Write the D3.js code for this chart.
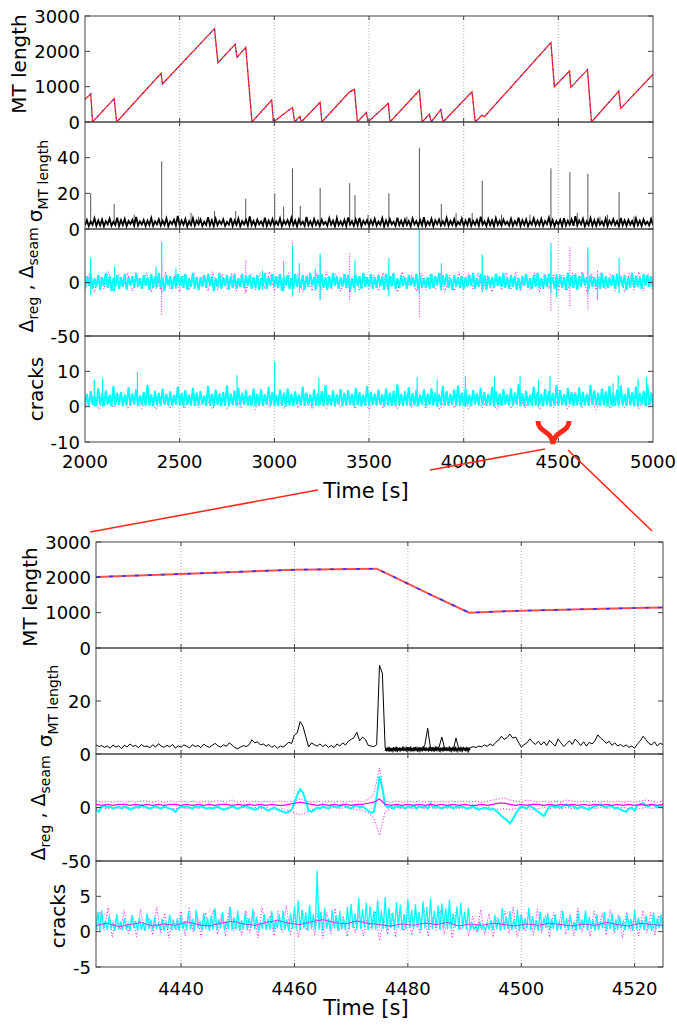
<!DOCTYPE html>
<html><head><meta charset="utf-8">
<script src="https://cdn.jsdelivr.net/npm/d3@7"></script>
<style>body{margin:0;background:#fff}</style>
</head><body>
<script>
// ---------------- DATA ----------------
// Overview (2000-5000 s)
const topXTicks = [2000,2500,3000,3500,4000,4500,5000];
const topMT_T = [2000,2030,2040,2154,2167,2402,2409,2684,2702,2793,2803,2849,2882,2986,2995,3096,3107,3135,3142,3242,3251,3395,3423,3439,3486,3495,3602,3611,3766,3781,3819,3828,3879,3891,4044,4061,4096,4110,4461,4479,4559,4566,4654,4675,4819,4830,5000];
const topMT_V = [642,792,0,660,0,1378,1075,2642,1679,2198,1830,2113,0,623,0,415,0,160,0,557,0,840,925,0,274,0,528,0,896,0,226,0,349,0,858,0,189,150,2245,1000,1443,981,1481,0,868,387,1350];

const topSigma = [
2,5,1.6,4.2,2.4,6,1.8,4.8,2.1,5.3, 1.5,4.4,2.6,5.8,1.9,4.1,2.3,6.3,1.7,4.9,
2.2,5.6,1.6,4.5,2.8,5.1,1.9,6.8,2.0,4.3, 2.5,5.0,1.7,4.7,2.2,6.1,1.8,4.4,2.6,5.4,
1.9,4.6,2.3,5.9,1.6,4.2,2.7,5.2,2.0,7.4, 1.8,4.8,2.4,5.5,1.5,4.3,2.2,6.0,1.9,4.7,
2.6,5.3,1.7,4.1,2.3,6.6,2.0,4.9,1.6,5.7, 2.1,4.5,2.8,5.4,1.8,4.0,2.4,6.2,1.7,4.8,
2.3,5.8,1.6,4.4,2.5,5.1,1.9,7.0,2.2,4.6, 1.7,5.2,2.6,4.3,2.0,6.4,1.8,4.7,2.3,5.5,
1.9,4.2,2.4,5.9,1.6,4.6,2.7,5.0,2.0,6.1, 2.2,4.8,1.5,5.4,2.5,4.1,1.8,6.7,2.1,4.4,
1.8,5.6,2.3,4.5,1.7,5.2,2.6,4.0,1.9,6.0, 2.4,4.7,1.6,5.8,2.2,4.3,2.0,5.1,1.7,6.5,
2.5,4.4,1.8,5.3,2.1,6.2,1.6,4.6,2.8,5.0, 1.7,4.9,2.3,5.7,1.9,4.2,2.4,6.0,1.5,4.8,
2.0,5.5,2.6,4.1,1.8,6.3,2.2,4.7,1.9,5.2, 2.3,4.5,1.6,5.9,2.5,4.4,1.7,5.0,2.1,6.6,
1.8,4.2,2.4,5.6,1.6,4.8,2.7,5.3,2.0,4.3, 2.2,6.1,1.9,4.6,2.3,5.4,1.7,4.0,2.5,5.8,
1.6,4.7,2.1,6.2,1.8,4.5,2.4,5.1,1.9,6.9, 2.5,4.3,1.7,5.5,2.2,4.8,1.6,6.0,2.3,4.6,
1.9,5.2,2.6,4.1,2.0,5.7,1.8,4.4,2.4,6.4, 1.7,4.9,2.3,5.3,1.6,4.2,2.5,5.9,2.1,4.7,
2.2,5.6,1.8,4.5,2.7,6.3,1.9,5.0,1.6,4.4, 2.4,5.1,1.7,6.1,2.0,4.6,2.3,5.4,1.8,7.2,
2.1,4.8,2.6,5.7,1.6,4.3,2.2,6.0,1.9,4.9, 1.8,5.3,2.4,4.2,2.0,5.8,1.7,4.6,2.5,5.5,
2.3,4.4,1.6,6.2,2.1,4.9,1.9,5.1,2.4,4.5, 1.7,5.9,2.2,4.7,1.8,5.3,2.6,4.1,2.0,5.6, 2.2];
const topSigmaSpikeT = [2030,2154,2260,2405,2560,2600,2684,2796,2849,3002,3049,3096,3137,3242,3330,3398,3426,3495,3605,3700,3766,3882,3960,4045,4098,4200,4350,4461,4561,4600,4656,4720,4760,4821,4900];
const topSigmaSpikeV = [20,14,8,38,9,7,10,10,17,20,12.6,34,13,23,8,25.7,19,8,20,7,45.6,14,9,9,27,8,8,34,32,9,31,7,8,20.7,7];

const topDeltaCyan = [
-5,6,-3,8,-6,4,-4,7,-7,5, -3,9,-5,6,-8,4,-4,7,-6,5, -4,8,-7,5,-3,6,-5,9,-4,4,
-6,7,-3,5,-7,8,-5,6,-4,9, -5,4,-8,7,-3,6,-6,5,-4,8, -3,6,-5,8,-7,4,-4,9,-6,5,
-7,5,-4,7,-5,8,-3,6,-8,4, -4,9,-6,5,-3,7,-7,6,-5,8, -6,4,-4,8,-5,6,-3,7,-6,5,
-5,7,-7,4,-4,9,-6,5,-3,8, -4,6,-5,8,-8,5,-3,7,-6,4, -6,8,-4,5,-5,7,-7,6,-4,9,
-3,5,-6,7,-4,8,-5,4,-7,6, -5,9,-3,6,-6,5,-4,8,-5,7, -7,4,-5,7,-3,6,-6,9,-4,5,
-4,8,-6,5,-5,7,-3,6,-7,8, -5,6,-4,9,-6,4,-5,7,-3,5, -6,7,-3,5,-4,8,-7,6,-5,4,
-4,5,-6,8,-5,6,-3,9,-6,7, -3,8,-5,4,-7,7,-4,5,-5,6, -6,5,-4,7,-3,9,-6,4,-4,8,
-5,7,-7,6,-4,5,-5,8,-3,6, -4,9,-5,5,-6,7,-4,6,-7,4, -6,6,-3,8,-5,4,-6,7,-4,9,
-5,4,-6,7,-4,8,-3,5,-6,6, -3,7,-5,5,-7,9,-4,6,-5,8, -7,6,-4,8,-3,5,-6,7,-4,5,
-4,5,-6,9,-5,6,-5,4,-3,7, -6,8,-3,6,-4,7,-7,5,-5,9, -5,6,-4,5,-6,8,-3,7,-4,6, -5];
const topDeltaMag = [
-7,9,-9,7,-6,10,-8,8,-5,9, -8,7,-6,9,-9,8,-7,10,-6,7, -9,8,-7,9,-6,7,-8,10,-7,8,
-6,9,-8,7,-9,8,-7,9,-6,10, -8,7,-7,9,-6,8,-9,7,-8,9, -7,10,-6,8,-8,7,-9,9,-7,8,
-6,7,-8,9,-7,8,-9,10,-6,7, -8,9,-7,8,-6,9,-9,7,-8,10, -7,8,-6,9,-8,7,-9,8,-7,9,
-6,10,-8,7,-7,9,-9,8,-6,8, -8,7,-7,9,-6,10,-9,8,-7,9, -6,8,-8,7,-9,9,-7,10,-8,8, -7];
const topDeltaCyanSpikeT  = [2030,2156,2375,2405,2480,2937,3049,3096,3132,3216,3242,3426,3605,3766,3882,4098,4461,4491,4656,4707,4821];
const topDeltaCyanSpikeHi = [23,15,15,38,13,11,20,35,18,13,27,21,23,49,18,26,37,8,33,8,23];
const topDeltaCyanSpikeLo = [-12,-8,-6,-10,-6,-7,-8,-13,-9,-8,-16,-9,-13,-10,-8,-9,-10,-14,-12,-16,-10];
const topDeltaMagSpikeT  = [2405,2849,3096,3242,3398,3766,4461,4561,4656,4707];
const topDeltaMagSpikeHi = [20,21,38,22,27,10,30,34,28,12];
const topDeltaMagSpikeLo = [-30,-10,-13,-16,-16,-32,-26,-22,-25,-16];

const topCracksCyan = [
0.3,3.6,0.1,4.4,0.5,3.1,0.2,5.2,0.4,3.8, 0.2,4.6,0.6,3.3,0.1,5.8,0.3,3.9,0.5,4.2,
0.1,3.4,0.4,5.5,0.2,3.7,0.6,4.9,0.3,3.2, 0.5,4.1,0.2,6.2,0.3,3.5,0.1,4.5,0.4,3.9,
0.2,5.1,0.5,3.6,0.3,4.3,0.2,3.3,0.6,5.7, 0.4,3.8,0.1,4.7,0.5,3.4,0.3,5.3,0.2,4.0,
0.3,4.4,0.6,3.1,0.2,5.9,0.4,3.6,0.1,4.8, 0.5,3.5,0.2,4.2,0.3,6.0,0.1,3.7,0.4,4.5,
0.2,5.4,0.4,3.9,0.6,4.6,0.3,3.2,0.2,5.1, 0.1,3.7,0.3,4.9,0.2,3.5,0.5,5.6,0.3,4.1,
0.4,3.3,0.2,4.8,0.5,3.9,0.1,5.2,0.3,3.6, 0.2,4.3,0.6,3.4,0.3,5.7,0.2,4.0,0.4,3.5,
0.1,4.9,0.3,3.8,0.5,4.4,0.2,6.1,0.4,3.3, 0.3,4.6,0.1,3.5,0.6,5.0,0.2,3.9,0.3,4.7,
0.5,3.6,0.2,5.3,0.4,4.1,0.1,3.4,0.3,5.8, 0.2,4.2,0.5,3.7,0.3,4.8,0.6,3.5,0.1,5.1,
0.4,3.9,0.2,4.5,0.3,6.3,0.5,3.6,0.2,4.3, 0.3,5.5,0.1,3.8,0.4,4.6,0.2,3.3,0.6,4.9,
0.2,3.7,0.5,5.2,0.3,4.0,0.1,3.5,0.4,5.9, 0.3,4.4,0.2,3.6,0.5,4.8,0.3,6.0,0.2,3.9,
0.1,5.0,0.4,3.4,0.2,4.7,0.6,3.8,0.3,5.4, 0.5,4.1,0.2,3.6,0.3,5.6,0.1,4.3,0.4,3.7,
0.2,4.9,0.6,3.5,0.3,5.2,0.2,4.0,0.5,6.4, 0.3,3.8,0.1,4.5,0.4,3.3,0.2,5.7,0.3,4.2,
0.5,3.6,0.2,5.0,0.4,4.4,0.1,3.9,0.3,6.1, 0.2,4.7,0.5,3.5,0.3,5.3,0.6,4.1,0.2,3.8,
0.4,5.5,0.1,4.2,0.3,3.6,0.2,6.2,0.5,4.6, 0.3,3.9,0.2,5.1,0.4,4.3,0.1,5.8,0.3,3.7,
0.2,4.8,0.5,6.0,0.3,3.6,0.2,5.4,0.4,4.1, 0.1,5.7,0.3,3.9,0.6,4.5,0.2,6.3,0.4,4.0, 0.3];
const topCracksMag = [
-0.4,3.2,-0.7,2.6,-0.3,3.8,-0.6,2.9,-0.5,3.4, -0.8,2.7,-0.4,3.6,-0.6,3.0,-0.3,2.5,-0.7,3.9,
-0.5,3.1,-0.4,2.8,-0.8,3.5,-0.3,2.6,-0.6,3.3, -0.4,3.7,-0.7,2.9,-0.5,3.2,-0.3,4.1,-0.6,2.7,
-0.8,3.4,-0.4,3.0,-0.6,2.6,-0.3,3.8,-0.5,3.1, -0.7,2.8,-0.4,3.5,-0.6,3.2,-0.3,2.7,-0.8,3.9,
-0.5,3.0,-0.4,3.6,-0.7,2.9,-0.3,3.3,-0.6,4.0, -0.4,2.8,-0.8,3.4,-0.5,3.1,-0.3,2.6,-0.6,3.7, -0.5];

const topCracksSpikeT = [2049,2093,2277,2803,3002,3235,3754,3860,4009,4163,4298,4395,4456,4789,4816,4921,4965];
const topCracksSpikeV = [7.7,8,9.9,8.9,12.7,8.2,8.5,7.7,8.6,8.5,8.6,7.5,8.6,6.6,8.9,8,8.5];

// Zoom (4425-4525 s)
const botXTicks = [4440,4460,4480,4500,4520];
const botMT_T = [4425,4440,4460,4474.5,4480,4484,4490.8,4500,4520,4525];
const botMT_V = [2010,2094,2216,2244,1820,1509,999,1056,1132,1149];

const botSigma = [
3.5,2.8,3.2,2.5,3.0,2.2,3.4,2.6,3.1,2.0, 3.3,2.7,3.8,2.9,3.2,2.4,3.6,2.8,3.0,2.3,
3.5,2.6,3.9,3.0,2.5,3.3,2.7,3.6,2.2,3.1, 2.6,3.4,2.9,2.3,3.5,2.8,3.2,2.4,3.7,3.0,
2.5,3.3,4.0,3.1,2.6,3.5,2.9,4.2,3.4,2.4, 2.0,2.6,3.2,2.8,3.5,5.4,4.2,4.6,3.4,3.8,
3.0,3.6,2.5,3.2,2.2,3.0,2.6,3.4,4.5,3.9, 7.2,8.0,12.2,10.5,6.5,2.7,4.2,3.5,3.0,3.8,
2.8,3.5,2.5,3.2,2.4,3.8,3.0,4.2,3.4,4.8, 5.5,6.2,8.2,5.0,6.4,5.5,3.3,3.0,2.8,3.5,
33.5,30.5,2.2,1.6,2.0,1.5,2.3,1.7,2.1,1.5, 2.4,1.8,2.0,1.6,2.2,1.7,3.5,9.7,2.0,2.3,
1.8,2.6,6.4,2.0,1.7,2.2,1.6,6.0,1.8,2.1, 1.5,2.0,2.3,2.8,2.4,3.0,2.7,3.4,2.9,3.8,
3.1,4.4,5.2,6.7,5.5,6.2,7.5,6.0,6.4,4.5, 2.6,3.5,4.2,5.7,4.5,3.6,4.8,3.4,4.6,3.2,
5.2,4.0,3.0,5.7,4.2,2.8,3.9,5.0,3.6,5.6, 4.5,3.2,4.6,3.0,4.4,3.8,5.0,7.2,6.0,5.2,
4.0,4.8,3.3,4.2,3.0,3.6,2.8,3.4,2.5,3.0, 2.2,3.8,5.0,6.7,5.4,4.0,3.4,4.6,3.0,4.1, 3.5];
const botSigmaBurst = [
1.2,2.4,1.0,2.1,1.4,2.7,0.9,2.3,1.3,2.0, 1.1,2.6,1.5,2.2,0.9,2.8,1.2,2.0,1.4,2.5,
1.0,2.3,1.3,2.9,1.1,2.1,1.5,2.4,0.9,2.6, 1.2,2.2,1.4,2.8,1.0,2.0,1.3,2.5,1.1,2.7,
1.5,2.3,0.9,2.1,1.2,2.6,1.4,2.4,1.0,2.9, 1.3,2.2,1.1,2.5,1.5,2.0,0.9,2.7,1.2,2.3,
1.4,2.6,1.0,2.1,1.3,2.8,1.1,2.4,1.5,2.2, 0.9,2.5,1.2,2.0,1.4,2.7,1.0,2.3,1.3,2.6,
1.1,2.1,1.5,2.9,0.9,2.4,1.2,2.2,1.4,2.5, 1.0,2.8,1.3,2.0,1.1,2.6,1.5,2.3,0.9,2.1,
1.2,2.7,1.4,2.4,1.0,2.2,1.3,2.5,1.1,2.0, 1.6];

const botDeltaCyan = [
-2,-4,1,2,0,1,-1,0,1,-1, 1,0,-2,-1,1,0,2,1,0,-1, 0,1,0,-1,1,0,-1,-2,-4,-1,
1,0,1,0,-1,1,0,1,0,-1, 0,-1,0,1,-1,-2,-1,0,1,0, -1,0,1,2,0,-1,-2,-1,1,0,
-2,-3,-1,0,-2,-3,-4,-5,-4,-2, 4,12,17,14,6,-3,-4,-2,0,-1, 1,0,-1,2,1,0,1,3,1,0,
-1,1,2,0,1,-1,-3,-5,-4,10, 29,18,2,0,1,-1,2,0,1,-1, 1,0,2,-1,1,0,1,-1,4,0,
1,0,-1,1,0,2,-1,1,0,1, 0,-1,0,1,-1,-2,-1,0,-1,-2, -1,-3,-5,-8,-10,-12,-15,-11,-6,-2,
1,0,-1,2,0,-2,-4,-6,-8,-3, 1,2,0,1,0,2,3,1,2,0, -1,1,0,-1,-2,0,1,2,3,1,
0,2,1,-1,0,-2,-3,-4,-1,0, -3,2,3,4,2,1,3,2,0,1, 1];
const botDeltaMag = [
3,2,3,2,3,3,2,3,2,3, 2,3,2,3,3,2,3,2,3,2, 3,2,3,3,2,3,2,3,2,3, 2,3,2,2,3,4,5,4,3,2,
3,2,3,2,3,2,3,3,4,5, 8,3,2,3,2,3,2,3,2,3, 2,3,2,3,2,3,2,2,3,2, 3,4,4,3,2,3,2,3,3,2,
3,2,3,2,3,2,3,2,3,2, 3,2,3,2,3,2,3,2,3,2, 3];
const botDeltaMagHi = [
6,5,6,5,6,5,6,5,6,6, 5,6,5,6,5,6,5,6,5,6, 5,6,6,5,7,5,6,5,6,5, 6,5,6,6,5,6,8,6,5,6,
5,6,5,6,5,6,6,5,8,12, 37,6,5,6,5,6,5,6,5,6, 5,6,5,6,5,6,5,6,5,6, 7,8,9,7,6,5,7,6,5,6,
5,6,5,7,6,5,6,5,6,5, 6,5,6,5,6,5,6,7,6,5, 6];
const botDeltaMagLo = [
-1,0,-1,0,-1,-1,0,-1,0,-1, 0,-1,0,-1,-1,0,-1,0,-1,0, -1,0,-1,-2,0,-1,0,-1,0,-1,
0,-1,-2,-1,-3,-5,-7,-5,-2,-1, 0,-1,0,-1,0,-1,-2,-3,-5,-10, -26,-4,-1,0,-1,0,-1,0,-1,0,
-1,0,-1,0,-1,0,-1,0,-1,0, -1,-2,-1,-2,-1,0,-1,-2,-1,0, -1,0,-1,0,-1,0,-1,0,-1,0,
-1,0,-1,0,-1,-2,-1,0,-1,0, -1];

const botCracksCyan = [
0.3,2.8,0.1,3.0,0.4,1.6,0.2,2.2,0.5,1.2, 0.1,2.5,0.3,1.4,0.2,1.9,0.4,1.1,0.1,2.3,
0.5,1.5,0.2,2.0,0.3,1.3,0.1,2.6,0.4,1.7, 0.2,2.1,0.5,1.2,0.3,1.8,0.1,1.4,0.4,2.4,
0.2,1.6,0.3,1.9,0.1,
2.2,0.4,1.5,0.2,2.9,0.3,1.8,0.1,3.1,0.5, 1.4,0.2,2.6,0.4,1.9,0.1,2.3,0.3,3.3,0.2,
1.7,0.5,2.8,0.1,1.5,0.4,3.5,0.2,2.0,0.3, 3.0,0.1,1.6,0.4,2.7,0.2,1.9,0.5,3.2,0.3,
2.1,0.1,1.4,0.4,2.5,0.2,1.8,0.3,2.9,0.1, 1.6,0.5,2.4,0.2,3.0,0.3,1.7,0.1,2.6,0.4,
3.6,0.3,4.4,0.2,3.1,0.5,2.7,0.1,3.8,0.4,2.5,0.2,
8.6,0.3,2.8,0.1,3.4,0.4,1.9,0.2,3.1,0.5,2.3,0.1,2.9,0.3,1.8,0.2,3.5,0.4,
3.9,0.5,2.6,0.3,4.8,0.4,3.2,0.6,4.1,0.2, 3.6,0.5,2.9,0.3,4.4,0.6,3.0,0.4,4.9,0.2,
3.4,0.5,2.7,0.3,4.2,0.6,3.8,0.2,2.5,0.4, 4.6,0.5,3.1,0.3,3.9,0.6,2.8,0.2,4.3,0.5,
3.5,0.3,4.7,0.4,2.9,0.6,3.7,0.2,4.0,0.5, 3.3,0.3,4.5,0.4,2.6,0.6,3.6,0.2,4.1,0.5,
2.8,0.3,3.4,
0.2,1.1,0.3,0.9,0.1,1.4,0.4,0.8,0.2,1.2,0.3,1.6,
0.2,2.4,0.4,1.8,0.1,3.3,0.3,2.1,0.5,2.9, 0.2,1.7,0.4,3.1,0.1,2.5,0.3,1.9,0.5,3.4,
0.2,2.2,0.4,1.6,0.1,2.8,0.3,2.0,0.5,2.6,
0.2,1.8,0.4,2.5,0.1,1.5,0.3,2.9,0.5,1.9, 0.2,2.3,0.4,1.4,0.1,2.7,0.3,1.7,0.5,3.0,
0.2,2.1,0.4,1.6,0.1,2.4,0.3,1.5,0.5,2.8, 0.2,1.9,0.4,2.6,0.1,1.7,0.3,2.2,0.5,1.4,
0.2,2.5,0.4,1.8,0.1,3.1,0.3,2.0,0.5,1.6, 0.2,2.3,0.4,1.5,0.1,2.7,0.3,1.9,0.5,2.4, 0.3];
const botCracksMag = [
-0.5,2.8,0.2,3.4,-0.8,1.9,0.4,3.0,-0.3,2.4, -0.7,3.2,0.1,2.0,-0.5,3.5,-0.2,2.6,-0.9,1.8,
0.3,2.9,-0.6,3.3,-0.1,2.2,-0.8,2.7,0.2,3.1, -0.4,2.5,-0.7,3.6,0.1,2.1,-0.5,3.0,-0.2,2.8,
-0.9,3.4,0.3,2.3,-0.6,2.9,-0.1,3.7,-0.4,2.6, -0.8,3.1,0.2,2.4,-0.5,3.5,-1.0,2.7,-0.3,3.3,
0.1,2.2,-0.7,3.0,-0.2,2.5,-0.6,1.9,0.3,2.8, -1.3,2.0,-0.4,2.6,-0.8,3.2,0.1,2.3,-0.5,2.9,
-0.2,3.4,-0.7,2.1,0.2,3.0,-0.4,2.4,-0.9,3.3, 0.3,2.7,-0.6,2.2,-0.1,3.1,-0.5,2.6,-0.8,2.0,
0.2,2.9,-0.3,3.5,-0.7,2.4,0.1,2.8,-0.5,3.2, -0.2,2.3,-0.8,2.7,0.3,3.0,-0.4,2.5,-0.6,3.3,
-0.1,2.1,-0.7,2.9,0.2,2.6,-0.5,3.1,-0.3,2.4, -0.9,2.8,0.1,2.2,-0.6,3.0,-0.2,2.7,-0.5,2.3, 0.2];
const botCracksMagMean = [
0.9,1.2,0.7,1.0,1.3,0.8,1.1,0.9,1.4,1.0, 0.8,1.2,1.5,1.1,0.9,1.3,1.6,1.2,1.0,1.4,
1.7,1.3,1.1,1.5,1.2,1.0,0.8,1.1,0.9,1.2, 1.0,1.3,0.8,1.1,0.9,1.2,1.0,0.8,1.1,0.9,
1.2,1.0,0.8,1.1,0.9,1.3,1.0,0.8,1.2,1.0, 0.9];

// ---------------- DRAWING ----------------
const W = 677, H = 1028, F = "'DejaVu Sans', Verdana, sans-serif";
const svg = d3.select("body").append("svg").attr("width", W).attr("height", H);
let clipId = 0;

function series(vals, t0, t1) {
  const n = vals.length;
  return vals.map((v, i) => [t0 + (t1 - t0) * i / (n - 1), v]);
}
function zip(ts, vs) { return ts.map((t, i) => [t, vs[i]]); }

function chart(o) {
  const x = d3.scaleLinear().domain(o.xDomain).range([o.x0, o.x1]);
  const g = svg.append("g");
  o.panels.forEach(p => {
    const y = d3.scaleLinear().domain(p.domain).range([p.bottom, p.top]);
    const id = "clip" + (clipId++);
    g.append("clipPath").attr("id", id).append("rect")
      .attr("x", o.x0).attr("y", p.top).attr("width", o.x1 - o.x0).attr("height", p.bottom - p.top);
    // grid
    g.append("g").selectAll("line").data(o.gridTicks).join("line")
      .attr("x1", d => x(d)).attr("x2", d => x(d)).attr("y1", p.top).attr("y2", p.bottom)
      .attr("stroke", "#999").attr("stroke-width", 0.8).attr("stroke-dasharray", "1,2");
    const dg = g.append("g").attr("clip-path", `url(#${id})`);
    const line = d3.line().x(d => x(d[0])).y(d => y(d[1]));
    p.draw(dg, x, y, line);
    // frame
    g.append("rect").attr("x", o.x0).attr("y", p.top).attr("width", o.x1 - o.x0).attr("height", p.bottom - p.top)
      .attr("fill", "none").attr("stroke", "#444").attr("stroke-width", 1);
    // y ticks (inward, both sides)
    p.ticks.forEach(v => {
      [[o.x0, 5], [o.x1, -5]].forEach(([xx, dx]) =>
        g.append("line").attr("x1", xx).attr("x2", xx + dx).attr("y1", y(v)).attr("y2", y(v))
          .attr("stroke", "#444").attr("stroke-width", 1));
    });
    g.append("g").selectAll("text").data(p.labels).join("text")
      .attr("x", o.x0 - 5).attr("y", d => y(d)).attr("text-anchor", "end")
      .attr("dominant-baseline", "central").attr("font-family", F).attr("font-size", 18)
      .attr("fill", "#000").text(d => d);
    // x ticks top & bottom of panel
    o.gridTicks.forEach(t => {
      [[p.top, 4], [p.bottom, -4]].forEach(([yy, dy]) =>
        g.append("line").attr("x1", x(t)).attr("x2", x(t)).attr("y1", yy).attr("y2", yy + dy)
          .attr("stroke", "#444").attr("stroke-width", 1));
    });
    // y label
    const tl = g.append("text").attr("transform", `translate(${p.labX},${p.labY}) rotate(-90)`)
      .attr("text-anchor", "middle").attr("font-family", F).attr("font-size", 20).attr("fill", "#000");
    p.label(tl);
  });
  const last = o.panels[o.panels.length - 1];
  g.append("g").selectAll("text").data(o.xTicks).join("text")
    .attr("x", d => x(d)).attr("y", last.bottom + o.tickDy).attr("text-anchor", "middle")
    .attr("font-family", F).attr("font-size", 18).attr("fill", "#000").text(d => d);
  g.append("text").attr("x", o.titleX).attr("y", o.titleY).attr("text-anchor", "middle")
    .attr("font-family", F).attr("font-size", 21).attr("fill", "#000").text("Time [s]");
  return x;
}

const lblMT = t => t.text("MT length");
const lblSigma = t => { t.append("tspan").text("σ"); t.append("tspan").attr("dy", 6).attr("font-size", 14).text("MT length"); };
const lblDelta = t => {
  t.attr("font-size", 19);
  t.append("tspan").text("Δ"); t.append("tspan").attr("dy", 5).attr("font-size", 14).text("reg");
  t.append("tspan").attr("dy", -5).text(" , Δ"); t.append("tspan").attr("dy", 5).attr("font-size", 14).text("seam");
};
const lblCracks = t => t.text("cracks");

function spikes(g, x, y, ts, his, los, color, w, dash) {
  const s = g.append("g").selectAll("line").data(ts.map((t, i) => [t, his[i], los[i]])).join("line")
    .attr("x1", d => x(d[0])).attr("x2", d => x(d[0])).attr("y1", d => y(d[2])).attr("y2", d => y(d[1]))
    .attr("stroke", color).attr("stroke-width", w);
  if (dash) s.attr("stroke-dasharray", dash);
}

// ---- Overview chart ----
chart({
  xDomain: [2000, 5000], x0: 85, x1: 653, xTicks: topXTicks, gridTicks: topXTicks.slice(1, -1),
  tickDy: 26, titleX: 366, titleY: 498,
  panels: [
    { top: 16, bottom: 122, domain: [0, 3000], ticks: [0, 1000, 2000, 3000], labels: [0, 1000, 2000, 3000],
      labX: 26, labY: 64, label: lblMT,
      draw: (g, x, y, line) => {
        const d = zip(topMT_T, topMT_V);
        g.append("path").attr("d", line(d)).attr("fill", "none").attr("stroke", "#ff2020").attr("stroke-width", 1.3);
        g.append("path").attr("d", line(d)).attr("fill", "none").attr("stroke", "#3030ff").attr("stroke-width", 1.3).attr("stroke-dasharray", "1.2,6");
      } },
    { top: 122, bottom: 229, domain: [0, 60], ticks: [0, 20, 40], labels: [0, 20, 40],
      labX: 42, labY: 181, label: lblSigma,
      draw: (g, x, y, line) => {
        spikes(g, x, y, topSigmaSpikeT, topSigmaSpikeV, topSigmaSpikeT.map(() => 3), "#555", 1);
        g.append("path").attr("d", line(series(topSigma, 2000, 5000))).attr("fill", "none").attr("stroke", "#000").attr("stroke-width", 1.8);
      } },
    { top: 229, bottom: 336, domain: [-50, 50], ticks: [-50, 0], labels: [0, -50],
      labX: 33, labY: 280, label: lblDelta,
      draw: (g, x, y, line) => {
        g.append("path").attr("d", line(series(topDeltaMag, 2000, 5000))).attr("fill", "none").attr("stroke", "#ff00ff").attr("stroke-width", 1).attr("stroke-dasharray", "1,2");
        spikes(g, x, y, topDeltaMagSpikeT, topDeltaMagSpikeHi, topDeltaMagSpikeLo, "#ff00ff", 1, "1,1.5");
        spikes(g, x, y, topDeltaCyanSpikeT, topDeltaCyanSpikeHi, topDeltaCyanSpikeLo, "#00f0f0", 1.2);
        g.append("path").attr("d", line(series(topDeltaCyan, 2000, 5000))).attr("fill", "none").attr("stroke", "#00ffff").attr("stroke-width", 2);
      } },
    { top: 336, bottom: 442, domain: [-10, 20], ticks: [-10, 0, 10], labels: [-10, 0, 10],
      labX: 43, labY: 389, label: lblCracks,
      draw: (g, x, y, line) => {
        g.append("path").attr("d", line(series(topCracksMag, 2000, 5000))).attr("fill", "none").attr("stroke", "#ff00ff").attr("stroke-width", 1).attr("stroke-dasharray", "1,2");
        spikes(g, x, y, topCracksSpikeT, topCracksSpikeV, topCracksSpikeT.map(() => 0), "#00f0f0", 1.2);
        g.append("path").attr("d", line(series(topCracksCyan, 2000, 5000))).attr("fill", "none").attr("stroke", "#00ffff").attr("stroke-width", 2);
      } }
  ]
});

// ---- Zoom chart ----
chart({
  xDomain: [4425, 4525], x0: 96, x1: 663, xTicks: botXTicks, gridTicks: botXTicks,
  tickDy: 28, titleX: 366, titleY: 1015,
  panels: [
    { top: 542, bottom: 648, domain: [0, 3000], ticks: [0, 1000, 2000, 3000], labels: [0, 1000, 2000, 3000],
      labX: 37, labY: 597, label: lblMT,
      draw: (g, x, y, line) => {
        const d = zip(botMT_T, botMT_V);
        g.append("path").attr("d", line(d)).attr("fill", "none").attr("stroke", "#ff5050").attr("stroke-width", 2);
        g.append("path").attr("d", line(d)).attr("fill", "none").attr("stroke", "#3030ff").attr("stroke-width", 1.6).attr("stroke-dasharray", "4,9");
      } },
    { top: 648, bottom: 754, domain: [0, 40], ticks: [0, 20], labels: [0, 20],
      labX: 52, labY: 706, label: lblSigma,
      draw: (g, x, y, line) => {
        g.append("path").attr("d", line(series(botSigma, 4425, 4525))).attr("fill", "none").attr("stroke", "#000").attr("stroke-width", 1);
        g.append("path").attr("d", line(series(botSigmaBurst, 4476, 4491))).attr("fill", "none").attr("stroke", "#000").attr("stroke-width", 1.2);
      } },
    { top: 754, bottom: 861, domain: [-50, 50], ticks: [-50, 0], labels: [0, -50],
      labX: 45, labY: 808, label: lblDelta,
      draw: (g, x, y, line) => {
        g.append("path").attr("d", line(series(botDeltaMagHi, 4425, 4525))).attr("fill", "none").attr("stroke", "#ff00ff").attr("stroke-width", 1).attr("stroke-dasharray", "1,2");
        g.append("path").attr("d", line(series(botDeltaMagLo, 4425, 4525))).attr("fill", "none").attr("stroke", "#ff00ff").attr("stroke-width", 1).attr("stroke-dasharray", "1,2");
        g.append("path").attr("d", line(series(botDeltaCyan, 4425, 4525))).attr("fill", "none").attr("stroke", "#00ffff").attr("stroke-width", 2);
        g.append("path").attr("d", line(series(botDeltaMag, 4425, 4525))).attr("fill", "none").attr("stroke", "#ff00ff").attr("stroke-width", 1.2);
      } },
    { top: 861, bottom: 967, domain: [-5, 10], ticks: [-5, 0, 5], labels: [-5, 0, 5],
      labX: 65, labY: 916, label: lblCracks,
      draw: (g, x, y, line) => {
        g.append("path").attr("d", line(series(botCracksMag, 4425, 4525))).attr("fill", "none").attr("stroke", "#ff00ff").attr("stroke-width", 1).attr("stroke-dasharray", "1,2");
        g.append("path").attr("d", line(series(botCracksCyan, 4425, 4525))).attr("fill", "none").attr("stroke", "#00ffff").attr("stroke-width", 1.3);
        g.append("path").attr("d", line(series(botCracksMagMean, 4425, 4525))).attr("fill", "none").attr("stroke", "#ff00ff").attr("stroke-width", 1).attr("opacity", 0.8);
      } }
  ]
});

// ---- zoom annotation (red brace and connector lines) ----
const ann = svg.append("g").attr("stroke", "#ff2a1a").attr("fill", "none");
ann.append("line").attr("x1", 90).attr("y1", 532).attr("x2", 318).attr("y2", 490).attr("stroke-width", 1.6);
ann.append("line").attr("x1", 430).attr("y1", 470).attr("x2", 545).attr("y2", 449).attr("stroke-width", 1.6);
ann.append("line").attr("x1", 568).attr("y1", 450).attr("x2", 652).attr("y2", 531).attr("stroke-width", 1.6);
ann.append("path").attr("d", "M538,421 C538,433 552,430 553,444 C554,430 569,433 569,421").attr("stroke-width", 5);
</script>
</body></html>
